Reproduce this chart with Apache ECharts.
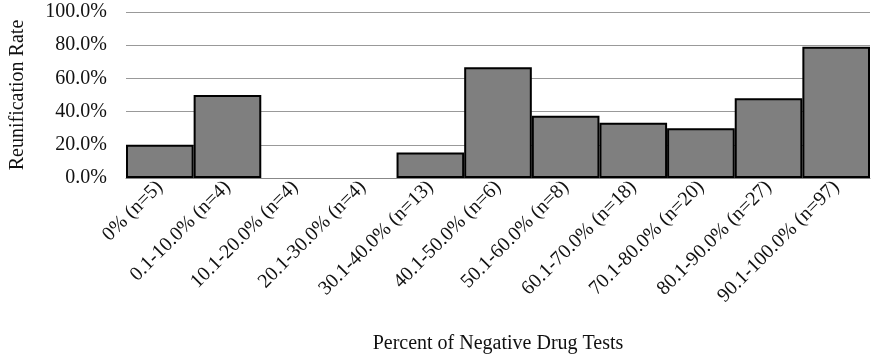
<!DOCTYPE html>
<html>
<head>
<meta charset="utf-8">
<script src="https://cdn.jsdelivr.net/npm/echarts@6/dist/echarts.min.js"></script>
<style>html,body{margin:0;padding:0;background:#fff}#c{width:871px;height:356px}</style>
</head>
<body>
<div id="c"></div>
<script>
const categories = ['0% (n=5)','0.1-10.0% (n=4)','10.1-20.0% (n=4)','20.1-30.0% (n=4)','30.1-40.0% (n=13)','40.1-50.0% (n=6)','50.1-60.0% (n=8)','60.1-70.0% (n=18)','70.1-80.0% (n=20)','80.1-90.0% (n=27)','90.1-100.0% (n=97)'];
const reunificationRate = [20.0, 50.0, 0, 0, 15.4, 66.7, 37.5, 33.3, 30.0, 48.1, 79.0];
const yTicks = [0, 20, 40, 60, 80, 100];

const font = '"Liberation Serif", "Times New Roman", serif';
const chart = echarts.init(document.getElementById('c'));
chart.setOption({
  animation: false,
  grid: {left: 122, right: 1, top: 12, bottom: 178, containLabel: false},
  xAxis: {
    type: 'category',
    data: categories,
    name: 'Percent of Negative Drug Tests',
    nameLocation: 'middle',
    nameGap: 156,
    nameTextStyle: {fontFamily: font, fontSize: 20, color: '#111'},
    axisLine: {lineStyle: {color: '#888', width: 1}},
    axisTick: {show: false},
    axisLabel: {rotate: 45, margin: 6, fontFamily: font, fontSize: 20, color: '#111', interval: 0}
  },
  yAxis: {
    type: 'value',
    min: yTicks[0], max: yTicks[yTicks.length-1], interval: 20,
    name: 'Reunification Rate',
    nameLocation: 'middle',
    nameGap: 98,
    nameTextStyle: {fontFamily: font, fontSize: 20, color: '#111'},
    axisLine: {show: false},
    axisTick: {show: false},
    axisLabel: {margin: 19, fontFamily: font, fontSize: 20, color: '#111', formatter: v => v.toFixed(1) + '%'},
    splitLine: {lineStyle: {color: '#999', width: 1}}
  },
  series: [{
    type: 'bar',
    barCategoryGap: '0%',
    data: reunificationRate.map(v => ({value: v, itemStyle: v === 0 ? {borderWidth: 0} : {}})),
    itemStyle: {color: '#7f7f7f', borderColor: '#000', borderWidth: 2}
  }]
});
</script>
</body>
</html>
